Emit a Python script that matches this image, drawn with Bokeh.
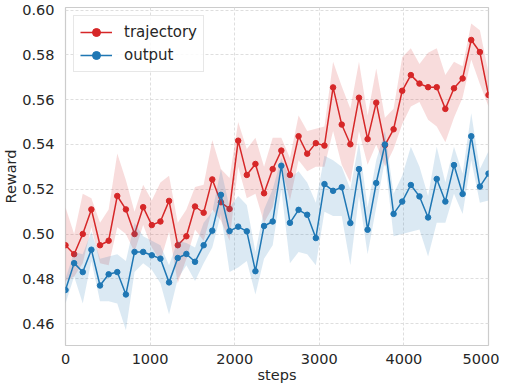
from bokeh.plotting import figure
from bokeh.models import FixedTicker, NumeralTickFormatter, Legend, LegendItem
from bokeh.embed import file_html
from bokeh.resources import INLINE

steps = [0, 102, 204, 306, 408, 510, 612, 714, 816, 918,
         1020, 1122, 1224, 1327, 1429, 1531, 1633, 1735, 1837, 1939,
         2041, 2143, 2245, 2347, 2449, 2551, 2653, 2755, 2857, 2959,
         3061, 3163, 3265, 3367, 3469, 3571, 3673, 3776, 3878, 3980,
         4082, 4184, 4286, 4388, 4490, 4592, 4694, 4796, 4898, 5000]

traj_mean = [0.495, 0.491, 0.500, 0.511, 0.495, 0.497, 0.517, 0.511, 0.500, 0.512,
             0.504, 0.5056, 0.5148, 0.4950, 0.4990, 0.5123, 0.5095, 0.5244, 0.5142, 0.5112,
             0.5417, 0.5264, 0.5313, 0.5182, 0.5290, 0.5373, 0.5264, 0.5437, 0.5359, 0.5406,
             0.5395, 0.5655, 0.5489, 0.5401, 0.5609, 0.5424, 0.5587, 0.5397, 0.5468, 0.5640,
             0.5710, 0.5672, 0.5656, 0.5656, 0.5559, 0.5651, 0.5695, 0.5867, 0.5813, 0.5621]
traj_upper = [0.512, 0.500, 0.518, 0.516, 0.505, 0.511, 0.536, 0.524, 0.510, 0.522,
              0.515, 0.523, 0.526, 0.505, 0.511, 0.521, 0.522, 0.542, 0.529, 0.525,
              0.550, 0.538, 0.543, 0.530, 0.543, 0.543, 0.534, 0.553, 0.546, 0.547,
              0.548, 0.577, 0.566, 0.556, 0.577, 0.553, 0.574, 0.552, 0.556, 0.579,
              0.583, 0.576, 0.581, 0.583, 0.571, 0.577, 0.575, 0.594, 0.591, 0.572]
traj_lower = [0.479, 0.481, 0.487, 0.503, 0.487, 0.486, 0.503, 0.500, 0.492, 0.504,
              0.494, 0.488, 0.501, 0.478, 0.489, 0.502, 0.497, 0.511, 0.506, 0.497,
              0.530, 0.516, 0.518, 0.505, 0.512, 0.530, 0.515, 0.533, 0.528, 0.530,
              0.530, 0.546, 0.531, 0.523, 0.546, 0.531, 0.540, 0.530, 0.538, 0.549,
              0.557, 0.559, 0.551, 0.548, 0.541, 0.552, 0.561, 0.578, 0.567, 0.557]

out_mean = [0.475, 0.487, 0.483, 0.493, 0.477, 0.482, 0.483, 0.473, 0.492, 0.492,
            0.4905, 0.4890, 0.4784, 0.4893, 0.4911, 0.4876, 0.4950, 0.5015, 0.5175, 0.5013,
            0.5033, 0.5012, 0.4834, 0.5036, 0.5056, 0.5305, 0.5050, 0.5108, 0.5086, 0.4982,
            0.5223, 0.5193, 0.5209, 0.5049, 0.5290, 0.5019, 0.5228, 0.5400, 0.5090, 0.5145,
            0.5219, 0.5168, 0.5074, 0.5246, 0.5145, 0.5308, 0.5179, 0.5437, 0.5212, 0.5270]
out_upper = [0.480, 0.492, 0.491, 0.501, 0.489, 0.490, 0.491, 0.488, 0.505, 0.499,
             0.497, 0.495, 0.486, 0.497, 0.496, 0.494, 0.505, 0.510, 0.529, 0.512,
             0.517, 0.513, 0.492, 0.511, 0.520, 0.534, 0.525, 0.528, 0.523, 0.514,
             0.535, 0.533, 0.530, 0.520, 0.541, 0.512, 0.533, 0.546, 0.518, 0.526,
             0.539, 0.530, 0.517, 0.539, 0.523, 0.539, 0.527, 0.554, 0.529, 0.537]
out_lower = [0.469, 0.481, 0.469, 0.488, 0.470, 0.470, 0.469, 0.457, 0.483, 0.487,
             0.484, 0.478, 0.464, 0.480, 0.486, 0.479, 0.487, 0.494, 0.509, 0.483,
             0.485, 0.488, 0.473, 0.489, 0.495, 0.520, 0.487, 0.492, 0.491, 0.486,
             0.510, 0.508, 0.508, 0.486, 0.517, 0.491, 0.512, 0.533, 0.499, 0.500,
             0.501, 0.502, 0.490, 0.505, 0.505, 0.518, 0.509, 0.533, 0.514, 0.515]

x_ticks = [0, 1000, 2000, 3000, 4000, 5000]
y_ticks = [0.46, 0.48, 0.50, 0.52, 0.54, 0.56, 0.58, 0.60]

RED = "#d62728"
BLUE = "#1f77b4"
FONT = "DejaVu Sans"
TXT = "#262626"

p = figure(width=499, height=385, output_backend="svg", toolbar_location=None,
           x_range=(0, 5000), y_range=(0.4502, 0.6012),
           min_border_left=56, min_border_right=11, min_border_top=7, min_border_bottom=30)

p.background_fill_color = "white"
p.border_fill_color = "white"
p.outline_line_color = "#cccccc"
p.outline_line_width = 1.2

for ax in (p.xaxis, p.yaxis):
    ax.axis_line_color = None
    ax.major_tick_line_color = None
    ax.minor_tick_line_color = None
    ax.major_label_text_font = FONT
    ax.major_label_text_font_size = "14.5px"
    ax.major_label_text_color = TXT
    ax.axis_label_text_font = FONT
    ax.axis_label_text_font_size = "14.5px"
    ax.axis_label_text_font_style = "normal"
    ax.axis_label_text_color = TXT

p.xaxis.ticker = FixedTicker(ticks=x_ticks)
p.yaxis.ticker = FixedTicker(ticks=y_ticks)
p.yaxis.formatter = NumeralTickFormatter(format="0.00")
p.xaxis.axis_label = "steps"
p.yaxis.axis_label = "Reward"
p.xaxis.major_label_standoff = 2
p.yaxis.major_label_standoff = 5
p.xaxis.axis_label_standoff = 0
p.yaxis.axis_label_standoff = 0

for g in (p.xgrid, p.ygrid):
    g.grid_line_color = "#dedede"
    g.grid_line_dash = "3 2"
    g.grid_line_width = 1

p.varea(x=steps, y1=traj_lower, y2=traj_upper, fill_color=RED, fill_alpha=0.16)
rl = p.line(steps, traj_mean, line_color=RED, line_width=1.5)
rs = p.scatter(steps, traj_mean, size=5.5, fill_color=RED, line_color=RED)

p.varea(x=steps, y1=out_lower, y2=out_upper, fill_color=BLUE, fill_alpha=0.16)
bl = p.line(steps, out_mean, line_color=BLUE, line_width=1.5)
bs = p.scatter(steps, out_mean, size=5.5, fill_color=BLUE, line_color=BLUE)

legend = Legend(items=[LegendItem(label="trajectory", renderers=[rl, rs]),
                       LegendItem(label="output", renderers=[bl, bs])],
                location="top_left")
legend.label_text_font = FONT
legend.label_text_font_size = "15px"
legend.label_text_color = TXT
legend.border_line_color = "#d0d0d0"
legend.border_line_width = 1
legend.background_fill_alpha = 0.85
legend.glyph_width = 32
legend.glyph_height = 20
legend.label_height = 20
legend.label_standoff = 12
legend.spacing = 3
legend.padding = 6
legend.margin = 8
p.add_layout(legend)

open("out.html", "w").write(file_html(p, INLINE))
